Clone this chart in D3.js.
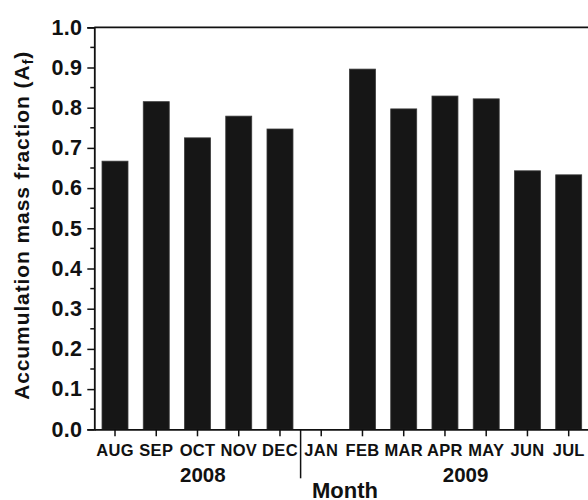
<!DOCTYPE html>
<html>
<head>
<meta charset="utf-8">
<script src="https://cdn.jsdelivr.net/npm/d3@7"></script>
<style>
  html, body { margin: 0; padding: 0; background: #fff; }
  svg { display: block; font-family: "Liberation Sans", Arial, sans-serif; font-weight: bold; }
</style>
</head>
<body>
<svg id="chart" width="588" height="500"></svg>
<script>
// Monthly accumulation mass fraction, Aug 2008 – Jul 2009 (no sample in January)
const months = ["AUG", "SEP", "OCT", "NOV", "DEC", "JAN", "FEB", "MAR", "APR", "MAY", "JUN", "JUL"];
const fraction = [0.667, 0.815, 0.725, 0.779, 0.747, null, 0.896, 0.797, 0.829, 0.822, 0.643, 0.633];
const years = [
  { label: "2008", from: "OCT", to: "NOV", w: 0.13 },
  { label: "2009", from: "APR", to: "MAY", w: 0.5 }
];
const yTicks = [0.0, 0.1, 0.2, 0.3, 0.4, 0.5, 0.6, 0.7, 0.8, 0.9, 1.0];
const yMinor = d3.range(0.05, 1.0, 0.1);

const svg = d3.select("#chart");
const plotLeft = 94.3, plotTop = 27.3, plotBottom = 429.3, plotRight = 589.4;
const fontFam = "Liberation Sans, Arial, sans-serif";

const x = d3.scaleBand().domain(months).range([plotLeft, plotRight])
  .paddingInner(0.37).paddingOuter(0.187);
const y = d3.scaleLinear().domain([0, 1]).range([plotBottom, plotTop]);
const cx = m => x(m) + x.bandwidth() / 2;

// bars
svg.append("g").selectAll("rect")
  .data(months.map((m, i) => ({ m, v: fraction[i] })).filter(d => d.v != null))
  .join("rect")
  .attr("x", d => x(d.m))
  .attr("width", x.bandwidth())
  .attr("y", d => y(d.v))
  .attr("height", d => y(0) - y(d.v))
  .attr("fill", "#161616")
  .attr("stroke", "#3a3a3a")
  .attr("stroke-width", 0.8);

// frame: top border
svg.append("line")
  .attr("x1", plotLeft).attr("x2", plotRight + 5)
  .attr("y1", plotTop).attr("y2", plotTop)
  .attr("stroke", "#111").attr("stroke-width", 1.8);

// y axis
const yAxis = svg.append("g").attr("transform", `translate(${plotLeft},0)`)
  .call(d3.axisLeft(y).tickValues(yTicks).tickFormat(d3.format(".1f")).tickSize(7).tickPadding(5));
yAxis.select(".domain").attr("stroke", "#111").attr("stroke-width", 1.8);
yAxis.selectAll(".tick line").attr("stroke", "#111").attr("stroke-width", 1.5);
yAxis.selectAll(".tick text").attr("font-size", 21.5).attr("font-weight", "bold")
  .attr("fill", "#111").attr("font-family", fontFam).attr("letter-spacing", 0.3);
yAxis.append("g").selectAll("line").data(yMinor).join("line")
  .attr("x1", -4).attr("x2", 0).attr("y1", d => y(d)).attr("y2", d => y(d))
  .attr("stroke", "#111").attr("stroke-width", 1.5);

// x axis
const xAxis = svg.append("g").attr("transform", `translate(0,${plotBottom})`)
  .call(d3.axisBottom(x).tickSize(7).tickPadding(8).tickSizeOuter(0));
xAxis.select(".domain").attr("stroke", "#111").attr("stroke-width", 1.8);
xAxis.selectAll(".tick line").attr("stroke", "#111").attr("stroke-width", 1.5);
xAxis.selectAll(".tick text").attr("font-size", 16.5).attr("font-weight", "bold")
  .attr("fill", "#111").attr("font-family", fontFam).attr("letter-spacing", 0.3);

// year divider between DEC and JAN
const sepX = (cx("DEC") + cx("JAN")) / 2;
svg.append("line")
  .attr("x1", sepX).attr("x2", sepX)
  .attr("y1", plotBottom).attr("y2", plotBottom + 49)
  .attr("stroke", "#111").attr("stroke-width", 1.5);

// year labels
svg.append("g").selectAll("text").data(years).join("text")
  .attr("x", d => cx(d.from) + (cx(d.to) - cx(d.from)) * d.w)
  .attr("y", 481.5)
  .attr("text-anchor", "middle")
  .attr("font-size", 20.5)
  .attr("fill", "#111")
  .text(d => d.label);

// x title
svg.append("text")
  .attr("x", 345).attr("y", 497.5)
  .attr("text-anchor", "middle")
  .attr("font-size", 22)
  .attr("fill", "#111")
  .text("Month");

// y title with subscript
const yt = svg.append("text")
  .attr("transform", `translate(28.5,${(plotTop + plotBottom) / 2 - 3}) rotate(-90)`)
  .attr("text-anchor", "middle")
  .attr("font-size", 21)
  .attr("letter-spacing", 0.9)
  .attr("fill", "#111");
yt.append("tspan").text("Accumulation mass fraction (A");
yt.append("tspan").attr("font-size", 15).attr("dy", 4).text("f");
yt.append("tspan").attr("dy", -4).text(")");
</script>
</body>
</html>
